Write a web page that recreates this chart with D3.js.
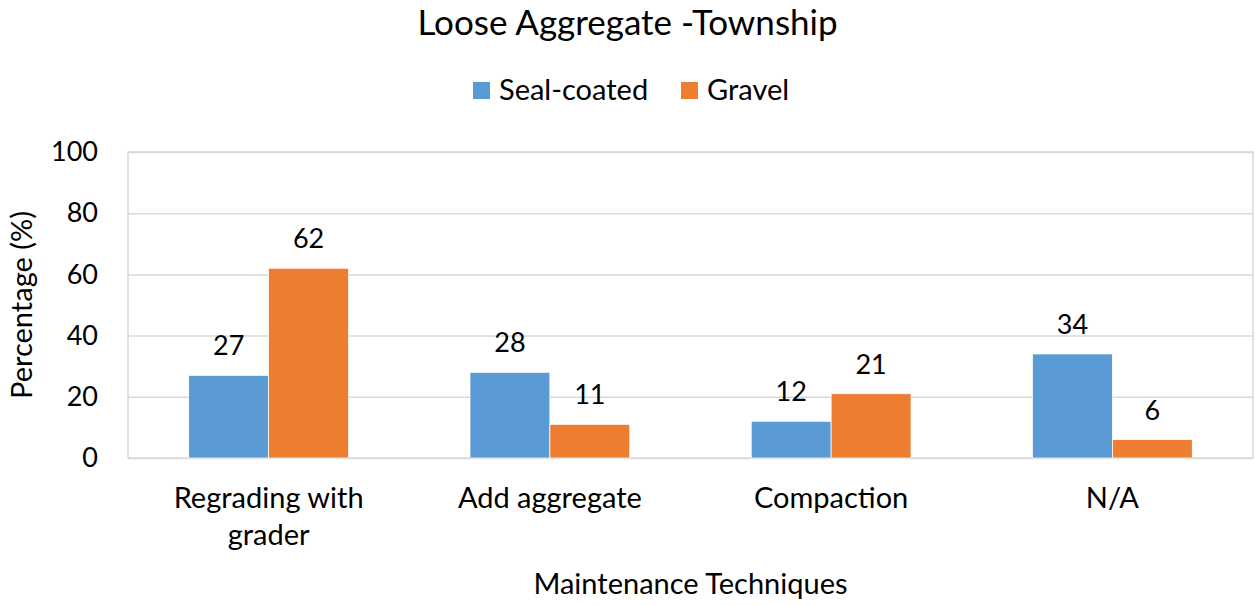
<!DOCTYPE html>
<html>
<head>
<meta charset="utf-8">
<script src="https://cdn.jsdelivr.net/npm/d3@7"></script>
<style>
  html, body { margin: 0; padding: 0; background: #fff; }
  svg { display: block; font-family: Lato, "Open Sans", sans-serif; }
</style>
</head>
<body>
<svg id="chart" width="1255" height="605"></svg>
<script>
// Maintenance techniques for loose aggregate roads, by surface type
const categories = [["Regrading with", "grader"], ["Add aggregate"], ["Compaction"], ["N/A"]];
const seriesNames = ["Seal-coated", "Gravel"];
const sealCoated = [27, 28, 12, 34];
const gravel = [62, 11, 21, 6];
const yTicks = [0, 20, 40, 60, 80, 100];
const colors = ["#5B9BD5", "#ED7D31"];

const svg = d3.select("#chart");
const W = 1255, H = 605;
const m = { left: 128, right: 2, top: 152, bottom: 147 };
const wordSize = 29, numSize = 27;

const catKeys = categories.map(c => c.join(" "));
const x = d3.scaleBand().domain(catKeys).range([m.left, W - m.right]).paddingInner(0).paddingOuter(0);
const inner = d3.scaleBand().domain(seriesNames).range([0, x.bandwidth()]).paddingInner(0).paddingOuter(0.76);
const y = d3.scaleLinear().domain([0, 100]).range([H - m.bottom, m.top]);

// gridlines
svg.append("g")
  .attr("transform", `translate(${m.left},0)`)
  .call(d3.axisLeft(y).tickValues(yTicks).tickSize(-(W - m.left - m.right)).tickFormat(""))
  .call(g => g.select(".domain").remove())
  .call(g => g.selectAll("line").attr("stroke", "#d9d9d9").attr("stroke-width", 1.5));

// plot frame
svg.append("rect")
  .attr("x", m.left).attr("y", m.top)
  .attr("width", W - m.left - m.right).attr("height", y(0) - m.top)
  .attr("fill", "none").attr("stroke", "#d9d9d9").attr("stroke-width", 1.5);

// y tick labels
svg.append("g")
  .attr("transform", `translate(${m.left},0)`)
  .call(d3.axisLeft(y).tickValues(yTicks).tickSize(0).tickPadding(30))
  .call(g => g.select(".domain").remove())
  .call(g => g.selectAll("text").attr("font-size", numSize).attr("fill", "#000").attr("font-family", "Lato"));

// bars
const data = catKeys.map((k, i) => ({ key: k, values: [sealCoated[i], gravel[i]] }));
const groups = svg.append("g").selectAll("g").data(data).join("g")
  .attr("transform", d => `translate(${x(d.key)},0)`);

groups.selectAll("rect").data(d => d.values.map((v, j) => ({ name: seriesNames[j], v, j })))
  .join("rect")
  .attr("x", d => inner(d.name))
  .attr("y", d => y(d.v))
  .attr("width", inner.bandwidth())
  .attr("height", d => y(0) - y(d.v))
  .attr("fill", d => colors[d.j])
  .attr("stroke", "#fff").attr("stroke-width", 0.75);

groups.selectAll("text.val").data(d => d.values.map((v, j) => ({ name: seriesNames[j], v, j })))
  .join("text").attr("class", "val")
  .attr("x", d => inner(d.name) + inner.bandwidth() / 2)
  .attr("y", d => y(d.v) - 20)
  .attr("text-anchor", "middle")
  .attr("font-size", numSize).attr("fill", "#000")
  .text(d => d.v);

// x category labels
const xl = svg.append("g").selectAll("text").data(categories).join("text")
  .attr("x", (d, i) => x(catKeys[i]) + x.bandwidth() / 2)
  .attr("y", 508)
  .attr("text-anchor", "middle")
  .attr("font-size", wordSize).attr("fill", "#000");
xl.selectAll("tspan").data(d => d).join("tspan")
  .attr("x", function () { return this.parentNode.getAttribute("x"); })
  .attr("dy", (d, i) => i === 0 ? 0 : 37)
  .text(d => d);

// axis titles
svg.append("text")
  .attr("x", (m.left + W - m.right) / 2).attr("y", 594)
  .attr("text-anchor", "middle").attr("font-size", wordSize)
  .text("Maintenance Techniques");

svg.append("text")
  .attr("transform", `translate(32,${(m.top + y(0)) / 2}) rotate(-90)`)
  .attr("text-anchor", "middle").attr("font-size", wordSize)
  .text("Percentage (%)");

// title
svg.append("text")
  .attr("x", W / 2).attr("y", 35)
  .attr("text-anchor", "middle").attr("font-size", 35)
  .text("Loose Aggregate -Township");

// legend
const legend = svg.append("g");
const legendItems = [{ name: seriesNames[0], x: 473 }, { name: seriesNames[1], x: 681 }];
legendItems.forEach((it, i) => {
  legend.append("rect").attr("x", it.x).attr("y", 82).attr("width", 17).attr("height", 17).attr("fill", colors[i]);
  legend.append("text").attr("x", it.x + 26).attr("y", 100).attr("font-size", wordSize).text(it.name);
});
</script>
</body>
</html>
